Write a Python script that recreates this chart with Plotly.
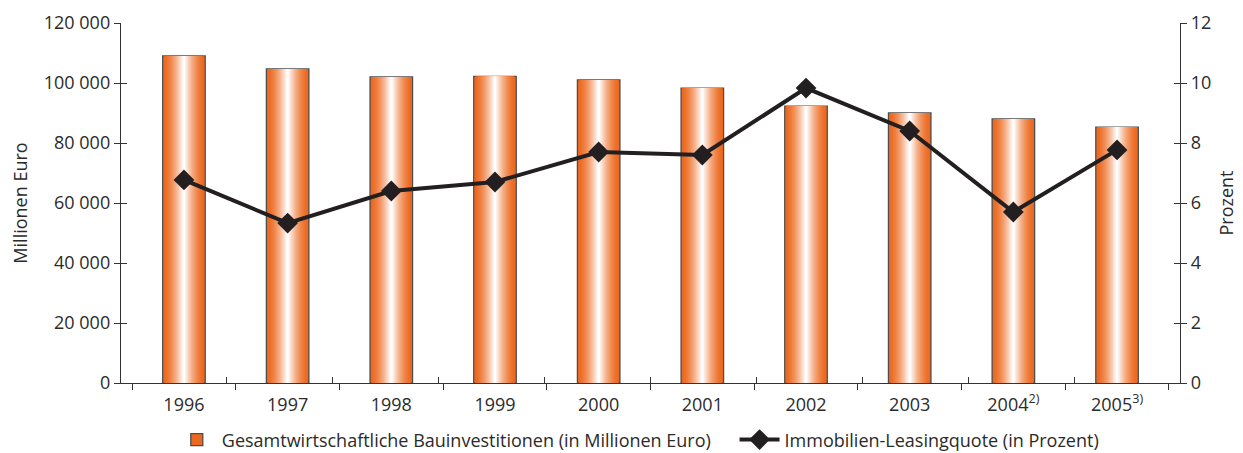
import plotly.graph_objects as go

years = ["1996", "1997", "1998", "1999", "2000", "2001", "2002", "2003", "2004", "2005"]
tick_labels = ["1996", "1997", "1998", "1999", "2000", "2001", "2002", "2003",
               "2004<sup>2)</sup>", "2005<sup>3)</sup>"]
bau = [109000, 104700, 102000, 102200, 101000, 98300, 92300, 90000, 88000, 85300]
quote = [6.77, 5.33, 6.4, 6.7, 7.7, 7.6, 9.83, 8.4, 5.7, 7.77]

FONT = "Open Sans"
TXT = "#2b2b2b"
AX = "#333333"
edge = (236, 104, 30)
N = 20
W = 0.41
NB = "\u00a0"

fig = go.Figure()

def mix(t):
    r = [round(edge[k] + (255 - edge[k]) * t) for k in range(3)]
    return f"rgb({r[0]},{r[1]},{r[2]})"

for i in range(N):
    t = i / (N - 1)
    w = W * (1 - i / N)
    fig.add_trace(go.Bar(
        x=years, y=bau, width=w,
        marker=dict(color=mix(t ** 1.6),
                    line=dict(color="#4d4d4d", width=1.3) if i == 0 else dict(width=0)),
        name="Gesamtwirtschaftliche Bauinvestitionen (in Millionen Euro)" + NB * 4,
        showlegend=(i == 0), hoverinfo="skip", yaxis="y"))

fig.add_trace(go.Scatter(
    x=years, y=quote, mode="lines+markers", yaxis="y2",
    line=dict(color="#231F20", width=4),
    marker=dict(symbol="diamond", size=16, color="#231F20"),
    name="Immobilien-Leasingquote (in Prozent)"))

# helper traces so the inner halves of the crossing ticks get drawn
fig.add_trace(go.Scatter(x=[None], y=[None], xaxis="x2", yaxis="y3",
                         showlegend=False, hoverinfo="skip"))
fig.add_trace(go.Scatter(x=[None], y=[None], xaxis="x2", yaxis="y4",
                         showlegend=False, hoverinfo="skip"))

n = len(years)
bounds = [i + 0.5 for i in range(-1, n)]

# page body adds an 8px margin, so the figure is 8px smaller than the window
fig.update_layout(
    width=1235, height=445,
    margin=dict(l=113, r=63, t=15, b=70, autoexpand=False),
    paper_bgcolor="white", plot_bgcolor="white",
    barmode="overlay",
    separators=", ",
    font=dict(family=FONT, size=18, color=TXT),
    showlegend=True,
    legend=dict(orientation="h", x=0.488, xanchor="center", y=-0.158, yanchor="middle",
                font=dict(size=18, color=TXT), traceorder="normal", itemwidth=40),
    xaxis=dict(tickmode="array", tickvals=years, ticktext=tick_labels,
               showline=True, linecolor=AX, linewidth=1.4,
               ticks="outside", tickson="boundaries", ticklen=6, tickcolor=AX,
               ticklabelstandoff=5,
               showgrid=False, tickfont=dict(size=18, color=TXT), automargin=False),
    xaxis2=dict(overlaying="x", anchor="y", range=[-0.5, n - 0.5],
                tickmode="array", tickvals=bounds, showticklabels=False,
                ticks="inside", ticklen=6, tickcolor=AX, showline=False,
                showgrid=False, zeroline=False, automargin=False),
    yaxis=dict(range=[0, 120000], dtick=20000, tickformat=",d",
               showline=True, linecolor=AX, linewidth=1.4,
               ticks="outside", ticklen=6, tickcolor=AX,
               showgrid=False, zeroline=False, automargin=False,
               title=dict(text="Millionen Euro", font=dict(size=18, color=TXT), standoff=14)),
    yaxis2=dict(range=[0, 12], dtick=2, overlaying="y", side="right",
                showline=True, linecolor=AX, linewidth=1.4,
                ticks="outside", ticklen=6, tickcolor=AX,
                showgrid=False, zeroline=False, automargin=False,
                title=dict(text="Prozent", font=dict(size=18, color=TXT), standoff=10)),
    yaxis3=dict(range=[0, 120000], dtick=20000, overlaying="y", anchor="x2", side="left",
                ticks="inside", ticklen=6, tickcolor=AX, showticklabels=False,
                showline=False, showgrid=False, zeroline=False, automargin=False),
    yaxis4=dict(range=[0, 12], dtick=2, overlaying="y", anchor="x2", side="right",
                ticks="inside", ticklen=6, tickcolor=AX, showticklabels=False,
                showline=False, showgrid=False, zeroline=False, automargin=False),
)

fig.write_html("out.html")
